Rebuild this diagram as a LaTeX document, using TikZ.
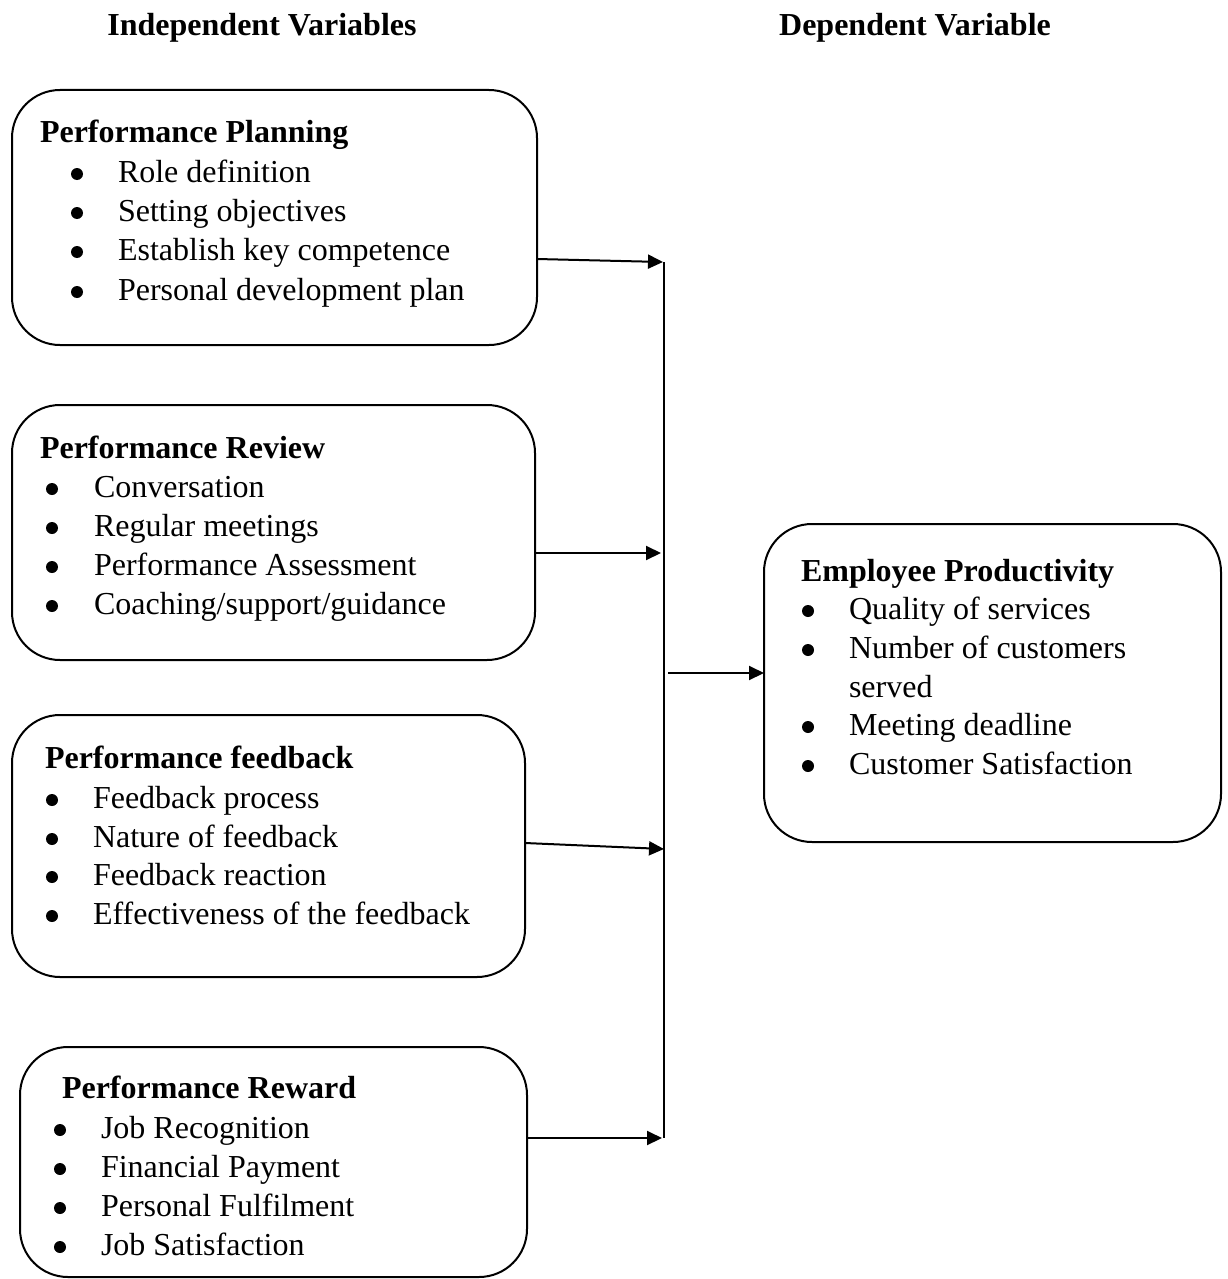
\documentclass[tikz,border=0pt]{standalone}
\usepackage{fontspec}
\setmainfont{Liberation Serif}
\usetikzlibrary{arrows.meta}
\begin{document}
\begin{tikzpicture}[x=0.5pt,y=-0.5pt,
  every node/.style={font=\fontsize{16pt}{19.5pt}\selectfont},
  box/.style={draw,line width=1pt,rounded corners=24pt,inner sep=0pt,outer sep=0pt},
  txt/.style={anchor=base west,inner sep=0pt,outer sep=0pt},
  ttl/.style={anchor=base west,inner sep=0pt,outer sep=0pt,font=\fontsize{16pt}{19.5pt}\selectfont\bfseries},
  dot/.style={circle,fill=black,inner sep=0pt,outer sep=0pt,minimum size=6pt},
  conn/.style={line width=1pt,-{Triangle[length=7.5pt,width=7pt]}},
  bar/.style={line width=1pt}]
\useasboundingbox (0,0) rectangle (1227,1279);
\newcommand\bitem[5]{\node[dot] (#1b) at (#2,#4-8) {}; \node[txt] (#1) at (#3,#4) {#5};}
% headers
\node[ttl,anchor=base] (hin) at (262,36) {Independent Variables};
\node[ttl,anchor=base] (hdep) at (915,36) {Dependent Variable};
% boxes
\node[box,minimum width=262.5pt,minimum height=127.5pt] (b1) at (274.5,217.5) {};
\node[box,minimum width=261.5pt,minimum height=127.5pt] (b2) at (273.5,532.5) {};
\node[box,minimum width=256.5pt,minimum height=131pt] (b3) at (268.5,846) {};
\node[box,minimum width=253.5pt,minimum height=115pt] (b4) at (273.5,1162) {};
\node[box,minimum width=228.5pt,minimum height=159pt] (b5) at (992.5,683) {};
% box 1
\node[ttl] (t1) at (40,142) {Performance Planning};
\bitem{p1}{77}{118}{182}{Role definition}
\bitem{p2}{77}{118}{221}{Setting objectives}
\bitem{p3}{77}{118}{260}{Establish key competence}
\bitem{p4}{77}{118}{300}{Personal development plan}
% box 2
\node[ttl] (t2) at (40,458) {Performance Review};
\bitem{r1}{52}{94}{497}{Conversation}
\bitem{r2}{52}{94}{536}{Regular meetings}
\bitem{r3}{52}{94}{575}{Performance Assessment}
\bitem{r4}{52}{94}{614}{Coaching/support/guidance}
% box 3
\node[ttl] (t3) at (45,768) {Performance feedback};
\bitem{f1}{52}{93}{808}{Feedback process}
\bitem{f2}{52}{93}{847}{Nature of feedback}
\bitem{f3}{52}{93}{885}{Feedback reaction}
\bitem{f4}{52}{93}{924}{Effectiveness of the feedback}
% box 4
\node[ttl] (t4) at (62,1098) {Performance Reward};
\bitem{w1}{60}{101}{1138}{Job Recognition}
\bitem{w2}{60}{101}{1177}{Financial Payment}
\bitem{w3}{60}{101}{1216}{Personal Fulfilment}
\bitem{w4}{60}{101}{1255}{Job Satisfaction}
% box 5
\node[ttl] (t5) at (801,581) {Employee Productivity};
\bitem{e1}{808}{849}{619}{Quality of services}
\bitem{e2}{808}{849}{658}{Number of customers}
\node[txt] (e2c) at (849,697) {served};
\bitem{e3}{808}{849}{735}{Meeting deadline}
\bitem{e4}{808}{849}{774}{Customer Satisfaction}
% junction
\coordinate (jt) at (664,262);
\coordinate (jb) at (664,1138);
\coordinate (j1) at (663,262);
\coordinate (j2) at (661,553);
\coordinate (j3) at (664,849);
\coordinate (j4) at (662,1138);
\coordinate (j5) at (668,673);
\draw[bar] (jt) -- (jb);
\draw[conn] ([yshift=-20.75pt]b1.east) -- (j1);
\draw[conn] ([yshift=-10.25pt]b2.east) -- (j2);
\draw[conn] ([yshift=1.5pt]b3.east) -- (j3);
\draw[conn] ([yshift=12pt]b4.east) -- (j4);
\draw[conn] (j5) -- (b5.west |- j5);
\end{tikzpicture}
\end{document}
